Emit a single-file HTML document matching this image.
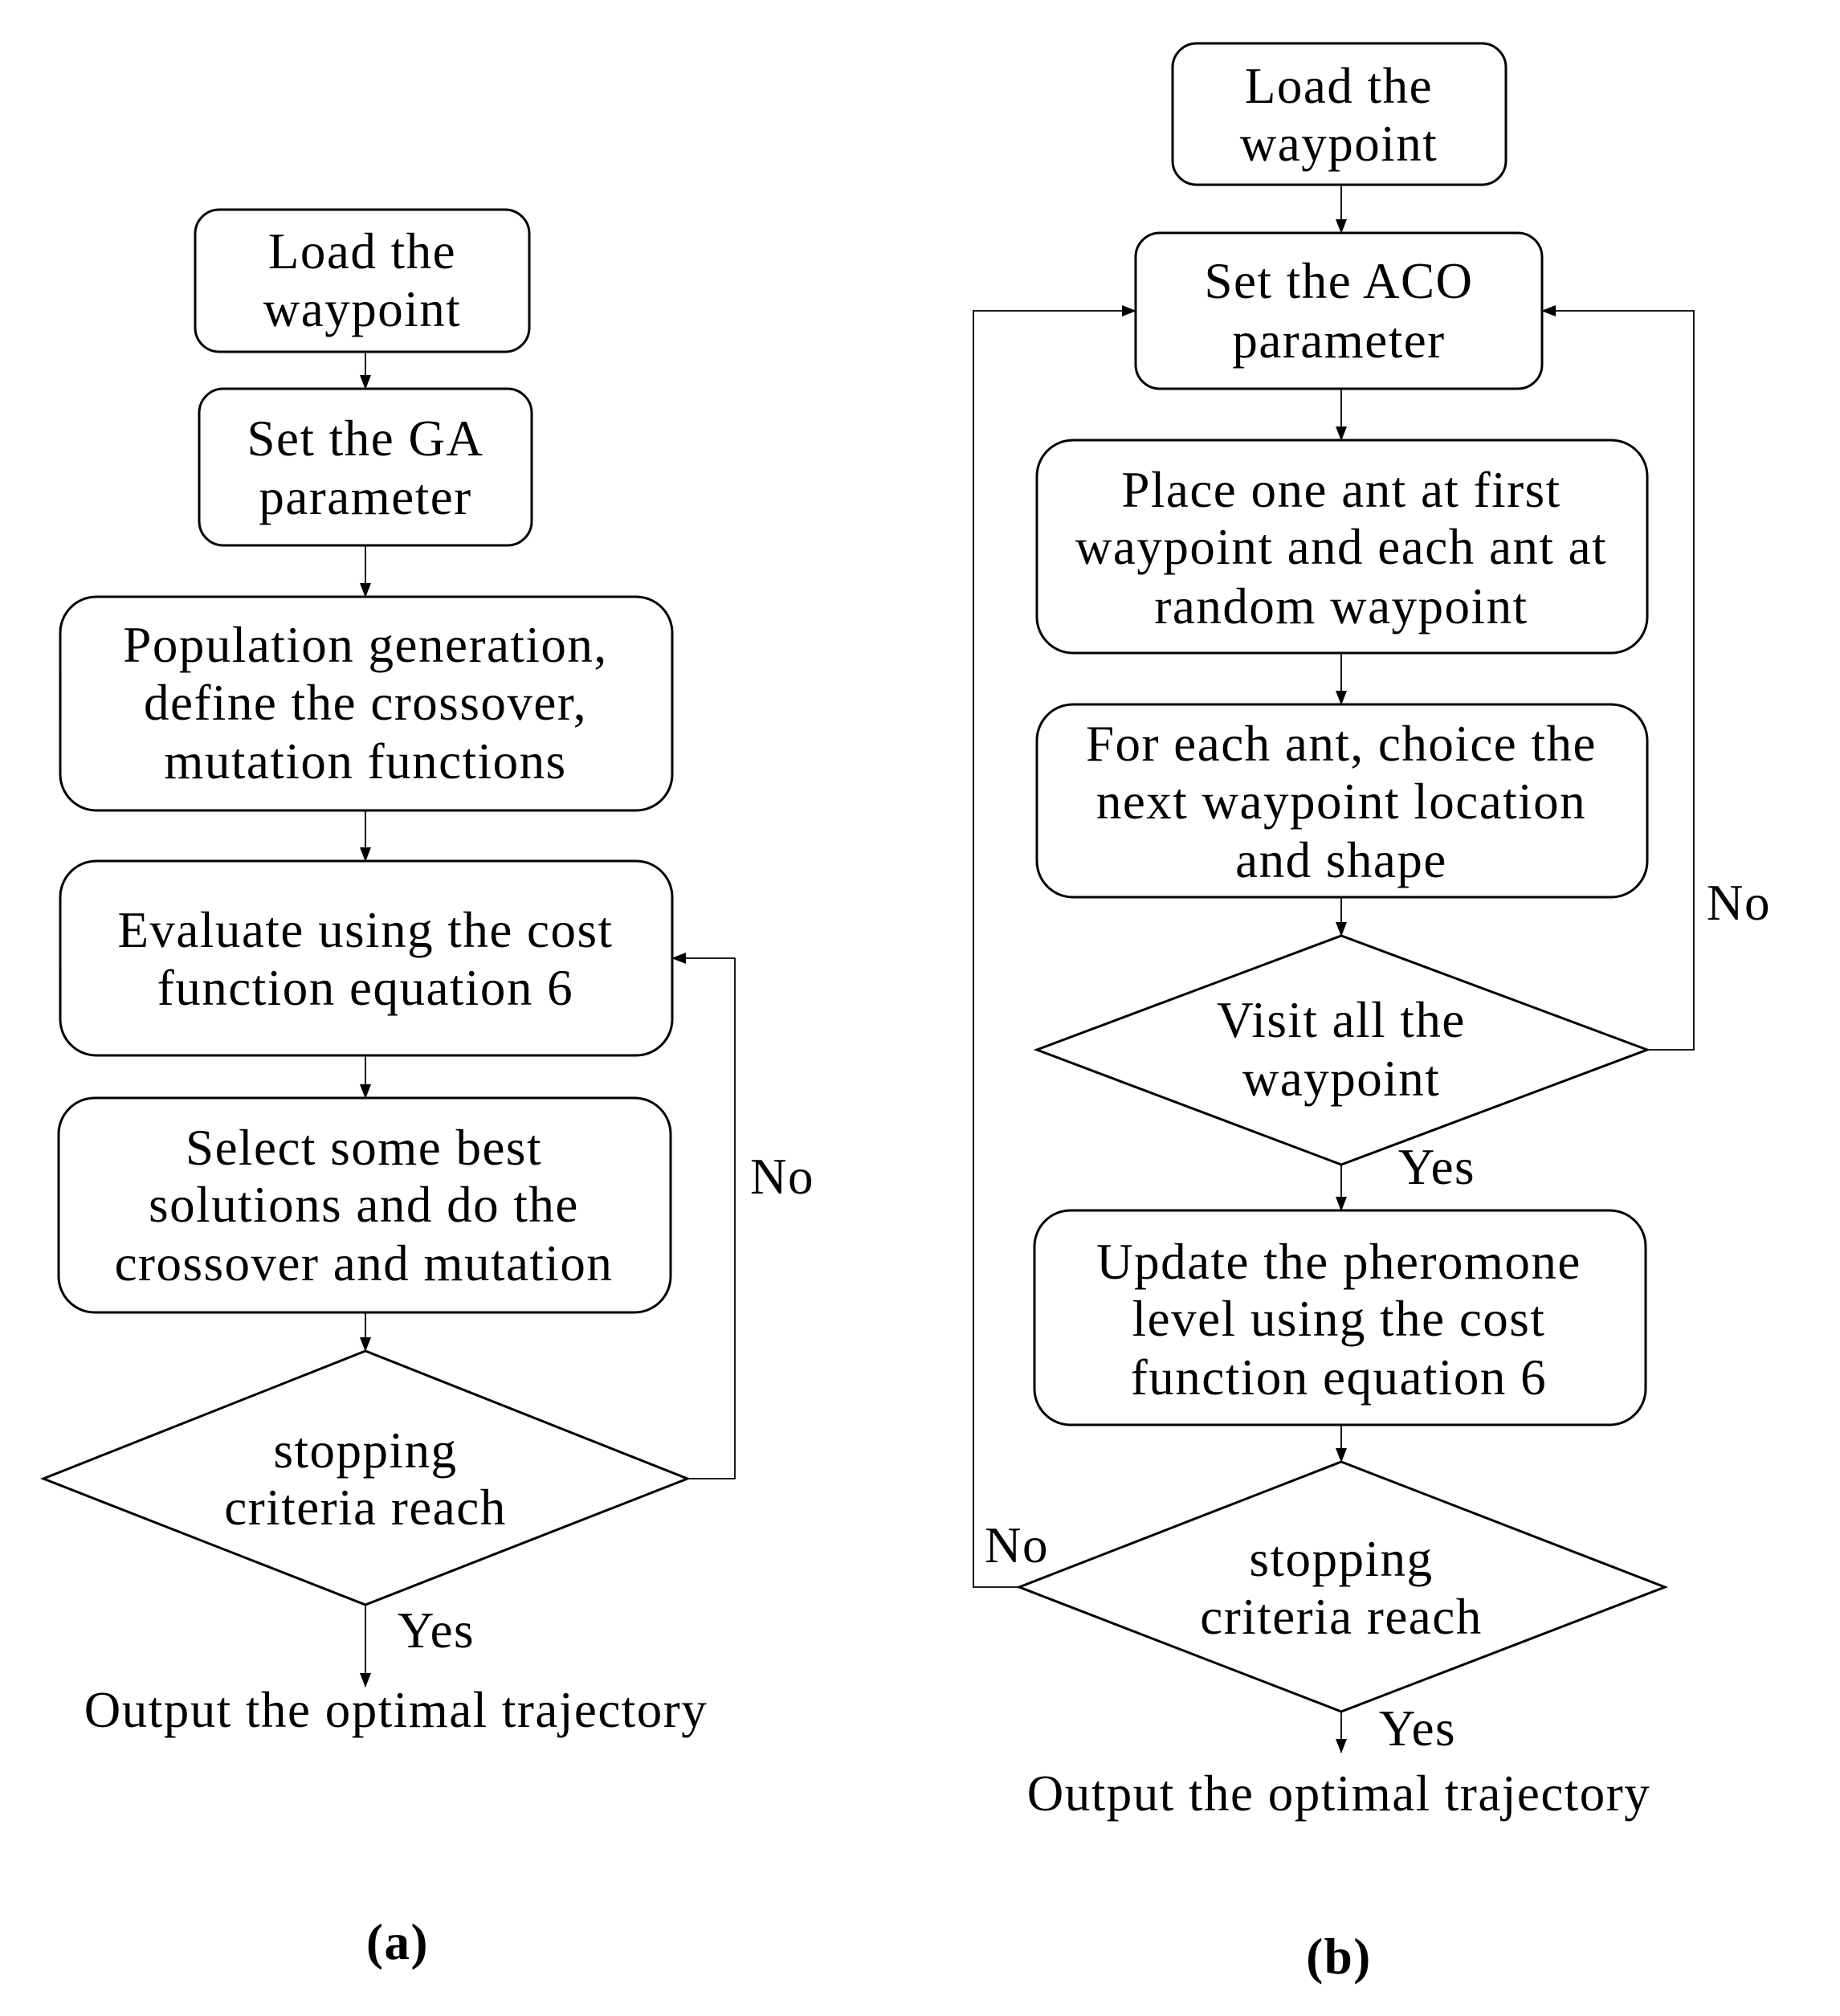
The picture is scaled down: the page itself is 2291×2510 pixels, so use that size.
<!DOCTYPE html>
<html><head><meta charset="utf-8"><style>
html,body{margin:0;padding:0;background:#fff}
svg{display:block}
text{font-family:"Liberation Serif",serif;font-size:63px;letter-spacing:1.5px;fill:#000}
</style></head><body>
<svg width="2291" height="2510" viewBox="0 0 2291 2510" xmlns="http://www.w3.org/2000/svg">
<defs>
<marker id="b" markerWidth="18" markerHeight="18" refX="17" refY="9" orient="auto" markerUnits="userSpaceOnUse" viewBox="0 0 18 18"><path d="M0,2 L18,9 L0,16 z" fill="#000"/></marker></defs>
<g fill="none" stroke="#000" stroke-width="3">
<rect x="243" y="261" width="416" height="177" rx="30"/>
<rect x="248" y="484" width="414" height="195" rx="30"/>
<rect x="75" y="743" width="762" height="266" rx="45"/>
<rect x="75" y="1072" width="762" height="242" rx="45"/>
<rect x="73" y="1367" width="762" height="267" rx="45"/>
<polygon points="54,1841 455,1682 856,1841 455,1998"/>
</g>
<g fill="none" stroke="#000" stroke-width="1.8">
<line x1="455" y1="438" x2="455" y2="484" marker-end="url(#b)"/>
<line x1="455" y1="679" x2="455" y2="743" marker-end="url(#b)"/>
<line x1="455" y1="1009" x2="455" y2="1072" marker-end="url(#b)"/>
<line x1="455" y1="1314" x2="455" y2="1367" marker-end="url(#b)"/>
<line x1="455" y1="1634" x2="455" y2="1682" marker-end="url(#b)"/>
<line x1="455" y1="1998" x2="455" y2="2100" marker-end="url(#b)"/>
<polyline points="856,1841 915,1841 915,1193 837,1193" marker-end="url(#b)"/>
</g>
<g text-anchor="middle" dominant-baseline="central">
<text x="451" y="313">Load the</text><text x="451" y="385">waypoint</text>
<text x="455" y="546">Set the GA</text><text x="455" y="619">parameter</text>
<text x="455" y="803">Population generation,</text><text x="455" y="875">define the crossover,</text><text x="455" y="948">mutation functions</text>
<text x="455" y="1158">Evaluate using the cost</text><text x="455" y="1230">function equation 6</text>
<text x="453" y="1429">Select  some best</text><text x="453" y="1500">solutions and do the</text><text x="453" y="1573">crossover and mutation</text>
<text x="455" y="1806">stopping</text><text x="455" y="1877">criteria reach</text>
<text x="974" y="1465">No</text>
<text x="543" y="2030">Yes</text>
<text x="493" y="2129">Output the optimal trajectory</text>
<text x="495" y="2418" font-weight="bold">(a)</text>
</g>
<g transform="translate(9,2)">
<g fill="none" stroke="#000" stroke-width="3">
<rect x="1451" y="52" width="415" height="176" rx="30"/>
<rect x="1405" y="288" width="506" height="194" rx="30"/>
<rect x="1282" y="546" width="760" height="265" rx="45"/>
<rect x="1282" y="875" width="760" height="240" rx="45"/>
<polygon points="1282,1305 1661,1163 2042,1305 1661,1448"/>
<rect x="1279" y="1505" width="761" height="267" rx="45"/>
<polygon points="1260,1974 1661,1818 2064,1974 1661,2129"/>
</g>
<g fill="none" stroke="#000" stroke-width="1.8">
<line x1="1661" y1="228" x2="1661" y2="288" marker-end="url(#b)"/>
<line x1="1661" y1="482" x2="1661" y2="546" marker-end="url(#b)"/>
<line x1="1661" y1="811" x2="1661" y2="875" marker-end="url(#b)"/>
<line x1="1661" y1="1115" x2="1661" y2="1163" marker-end="url(#b)"/>
<line x1="1661" y1="1448" x2="1661" y2="1505" marker-end="url(#b)"/>
<line x1="1661" y1="1772" x2="1661" y2="1818" marker-end="url(#b)"/>
<line x1="1661" y1="2129" x2="1661" y2="2180" marker-end="url(#b)"/>
<polyline points="2042,1305 2100,1305 2100,385 1911,385" marker-end="url(#b)"/>
<polyline points="1260,1974 1203,1974 1203,385 1405,385" marker-end="url(#b)"/>
</g>
<g text-anchor="middle" dominant-baseline="central">
<text x="1658" y="105">Load the</text><text x="1658" y="177">waypoint</text>
<text x="1658" y="348">Set the ACO</text><text x="1658" y="422">parameter</text>
<text x="1661" y="608">Place  one ant  at first</text><text x="1661" y="679">waypoint and each ant at</text><text x="1661" y="753">random waypoint</text>
<text x="1661" y="924">For each ant, choice the</text><text x="1661" y="996">next waypoint location</text><text x="1661" y="1069">and shape</text>
<text x="1661" y="1268">Visit all the</text><text x="1661" y="1341">waypoint</text>
<text x="2156" y="1122">No</text>
<text x="1780" y="1451">Yes</text>
<text x="1658" y="1569">Update the pheromone</text><text x="1658" y="1640">level using the cost</text><text x="1658" y="1713">function equation 6</text>
<text x="1661" y="1939">stopping</text><text x="1661" y="2011">criteria reach</text>
<text x="1257" y="1922">No</text>
<text x="1756" y="2150">Yes</text>
<text x="1658" y="2231">Output the optimal trajectory</text>
<text x="1658" y="2434" font-weight="bold">(b)</text>
</g>
</g>
</svg>
</body></html>
